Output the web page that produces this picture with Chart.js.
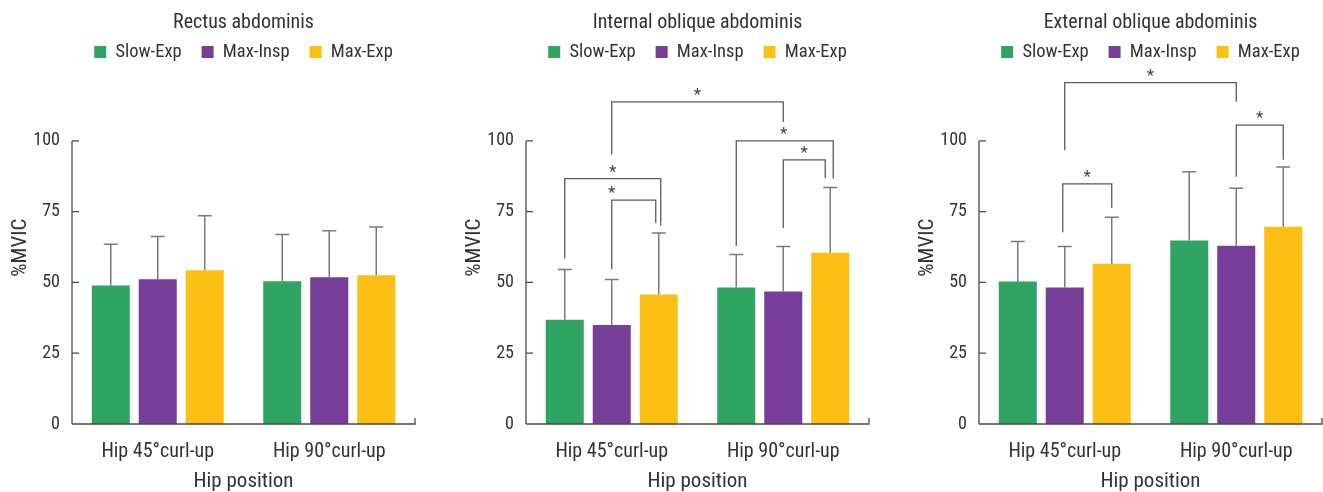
<!DOCTYPE html>
<html><head><meta charset="utf-8">
<script src="https://cdn.jsdelivr.net/npm/chart.js@4.4.1/dist/chart.umd.min.js"></script>
<style>
html,body{margin:0;padding:0;background:#fff;overflow:hidden;width:1323px;height:492px;}
.w{position:absolute;top:0;height:492px;}
canvas{display:block;}
</style></head><body>
<div class="w" style="left:0;width:453px"><canvas id="c1" width="453" height="492" style="width:453px;height:492px"></canvas></div>
<div class="w" style="left:454px;width:453px"><canvas id="c2" width="453" height="492" style="width:453px;height:492px"></canvas></div>
<div class="w" style="left:907px;width:416px"><canvas id="c3" width="416" height="492" style="width:416px;height:492px"></canvas></div>
<script>
// ---------- DATA ----------
const categories = ['Hip 45\u00b0curl-up', 'Hip 90\u00b0curl-up'];
const seriesNames = ['Slow-Exp', 'Max-Insp', 'Max-Exp'];
const yTicks = [0, 25, 50, 75, 100];

// Rectus abdominis (mean, SD)
const rectusSlowExp = [48.9, 50.4];
const rectusSlowExpSD = [14.6, 16.5];
const rectusMaxInsp = [51.1, 51.8];
const rectusMaxInspSD = [15.1, 16.5];
const rectusMaxExp = [54.3, 52.5];
const rectusMaxExpSD = [19.3, 17.1];

// Internal oblique abdominis
const internalSlowExp = [36.8, 48.2];
const internalSlowExpSD = [17.8, 11.7];
const internalMaxInsp = [35.0, 46.8];
const internalMaxInspSD = [16.0, 15.9];
const internalMaxExp = [45.7, 60.5];
const internalMaxExpSD = [21.8, 23.0];

// External oblique abdominis
const externalSlowExp = [50.3, 64.8];
const externalSlowExpSD = [14.2, 24.3];
const externalMaxInsp = [48.2, 63.0];
const externalMaxInspSD = [14.5, 20.3];
const externalMaxExp = [56.6, 69.7];
const externalMaxExpSD = [16.4, 21.1];

// Significance brackets: a/b = [category, series]; heights in %MVIC units
const rectusBrackets = [];
const internalBrackets = [
  {a: [0, 0], b: [0, 2], top: 86.7, legA: 58.5, legB: 70.0, star: 0.5, nudgeB: 2},
  {a: [0, 1], b: [0, 2], top: 79.1, legA: 54.7, legB: 71.0, star: 0.0, nudgeB: -3},
  {a: [0, 1], b: [1, 1], top: 113.8, legA: 95.3, legB: 106.7, star: 0.5},
  {a: [1, 0], b: [1, 2], top: 100.0, legA: 62.9, legB: 86.7, star: 0.49, nudgeB: 3},
  {a: [1, 1], b: [1, 2], top: 93.3, legA: 69.1, legB: 86.8, star: 0.5, nudgeB: -5}
];
const externalBrackets = [
  {a: [0, 1], b: [1, 1], top: 120.6, legA: 96.7, legB: 113.8, star: 0.5},
  {a: [0, 1], b: [0, 2], top: 84.8, legA: 67.7, legB: 76.4, star: 0.5, nudgeA: -2},
  {a: [1, 1], b: [1, 2], top: 105.6, legA: 87.3, legB: 93.3, star: 0.5}
];

// ---------- STYLE ----------
const FONT = "'Liberation Sans Narrow', 'Roboto Condensed', 'Arial Narrow', Roboto, sans-serif";
const TEXT = '#333333';
const COLORS = ['#30a463', '#763e98', '#fcbf13'];

function makeChart(id, title, means, sds, brackets, padRight) {
  const overlay = {
    id: 'overlay_' + id,
    afterDatasetsDraw(chart) {
      const ctx = chart.ctx;
      const ys = chart.scales.y;
      const ca = chart.chartArea;
      ctx.save();
      // axes
      ctx.strokeStyle = '#4a4a4a';
      ctx.lineWidth = 1.3;
      const y0 = ys.getPixelForValue(0);
      ctx.beginPath();
      ctx.moveTo(ca.left, y0);
      ctx.lineTo(ca.left, ys.getPixelForValue(yTicks[yTicks.length - 1]));
      yTicks.forEach(v => {
        const p = ys.getPixelForValue(v);
        ctx.moveTo(ca.left, p);
        ctx.lineTo(ca.left + 7, p);
      });
      ctx.moveTo(ca.left, y0);
      ctx.lineTo(ca.right, y0);
      ctx.lineTo(ca.right, y0 - 6);
      ctx.stroke();
      // error bars
      ctx.strokeStyle = '#7a7a7a';
      ctx.lineWidth = 1.5;
      means.forEach((arr, i) => {
        const meta = chart.getDatasetMeta(i);
        arr.forEach((m, j) => {
          const bar = meta.data[j];
          const pe = ys.getPixelForValue(m + sds[i][j]);
          ctx.beginPath();
          ctx.moveTo(bar.x, bar.y);
          ctx.lineTo(bar.x, pe);
          ctx.moveTo(bar.x - 7, pe);
          ctx.lineTo(bar.x + 7, pe);
          ctx.stroke();
        });
      });
      // brackets
      ctx.strokeStyle = '#5a5a5a';
      ctx.lineWidth = 1.3;
      ctx.fillStyle = '#444';
      ctx.font = "17px " + FONT;
      ctx.textAlign = 'center';
      ctx.textBaseline = 'alphabetic';
      brackets.forEach(b => {
        const xa = chart.getDatasetMeta(b.a[1]).data[b.a[0]].x + (b.nudgeA || 0);
        const xb = chart.getDatasetMeta(b.b[1]).data[b.b[0]].x + (b.nudgeB || 0);
        const pt = ys.getPixelForValue(b.top);
        ctx.beginPath();
        ctx.moveTo(xa, ys.getPixelForValue(b.legA));
        ctx.lineTo(xa, pt);
        ctx.lineTo(xb, pt);
        ctx.lineTo(xb, ys.getPixelForValue(b.legB));
        ctx.stroke();
        ctx.fillText('*', xa + (xb - xa) * b.star, pt - 2);
      });
      ctx.restore();
    }
  };

  return new Chart(document.getElementById(id), {
    type: 'bar',
    data: {
      labels: categories,
      datasets: seriesNames.map((n, i) => ({
        label: n,
        data: means[i],
        backgroundColor: COLORS[i],
        borderWidth: 0,
        categoryPercentage: 0.822,
        barPercentage: 0.809
      }))
    },
    options: {
      responsive: false,
      animation: false,
      devicePixelRatio: 1,
      layout: {padding: {left: 0, right: padRight, top: 0, bottom: 0}},
      plugins: {
        tooltip: {enabled: false},
        title: {
          display: true, text: title, fullSize: false, color: TEXT,
          font: {family: FONT, size: 20, weight: 'normal'},
          padding: {top: 11, bottom: -12.25}
        },
        legend: {
          display: true, fullSize: false, position: 'top',
          labels: {
            boxWidth: 12, boxHeight: 12, padding: 20, color: TEXT,
            font: {family: FONT, size: 18.5}
          }
        }
      },
      scales: {
        x: {
          border: {display: false},
          grid: {display: false, drawTicks: false},
          ticks: {padding: 16, color: TEXT, font: {family: FONT, size: 20}},
          title: {display: true, text: 'Hip position', color: TEXT, font: {family: FONT, size: 21}, padding: -2},
          afterFit(s) { s.height = 68; }
        },
        y: {
          min: 0, max: 124.6,
          border: {display: false},
          grid: {display: false, drawTicks: false},
          afterBuildTicks(s) { s.ticks = yTicks.map(v => ({value: v})); },
          ticks: {padding: 12, color: TEXT, font: {family: FONT, size: 18}},
          title: {display: true, text: '%MVIC', color: TEXT, font: {family: FONT, size: 21}, padding: {top: 8, bottom: 0}},
          afterFit(s) { s.width = 72; }
        }
      }
    },
    plugins: [overlay]
  });
}

makeChart('c1', 'Rectus abdominis',
  [rectusSlowExp, rectusMaxInsp, rectusMaxExp],
  [rectusSlowExpSD, rectusMaxInspSD, rectusMaxExpSD], rectusBrackets, 38);
makeChart('c2', 'Internal oblique abdominis',
  [internalSlowExp, internalMaxInsp, internalMaxExp],
  [internalSlowExpSD, internalMaxInspSD, internalMaxExpSD], internalBrackets, 38);
makeChart('c3', 'External oblique abdominis',
  [externalSlowExp, externalMaxInsp, externalMaxExp],
  [externalSlowExpSD, externalMaxInspSD, externalMaxExpSD], externalBrackets, 1);
</script>
</body></html>
